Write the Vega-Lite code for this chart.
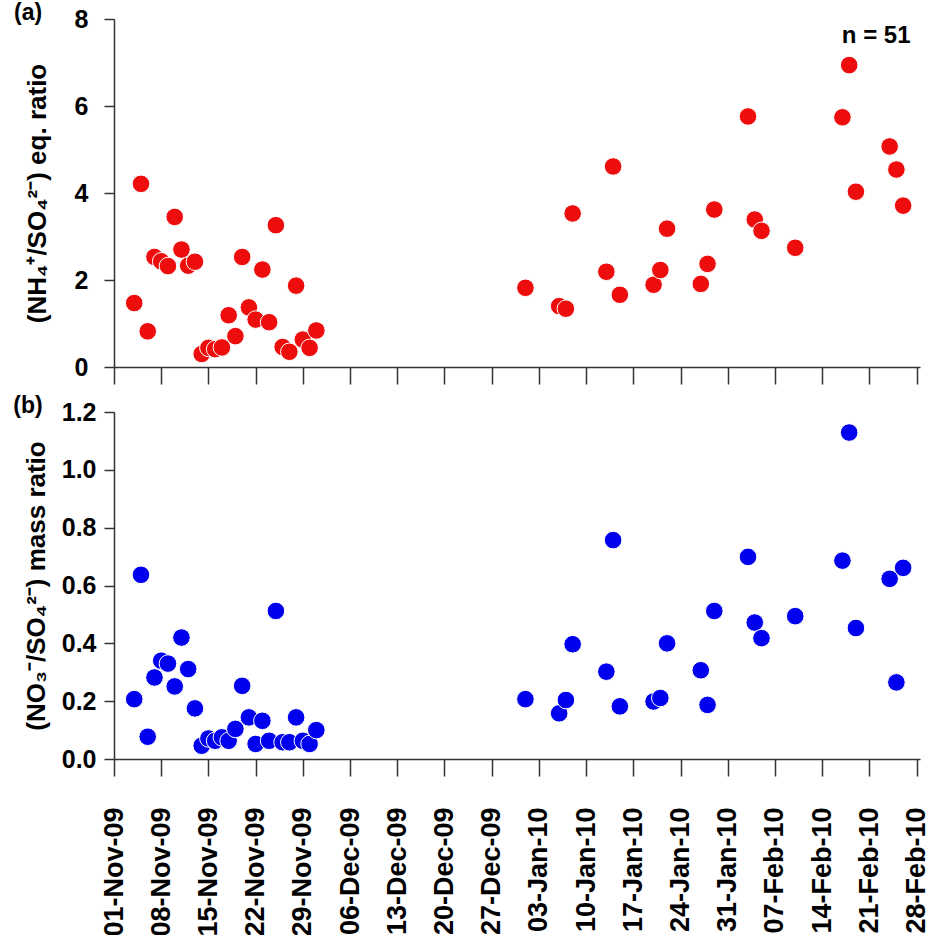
{
  "$schema": "https://vega.github.io/schema/vega-lite/v6.json",
  "background": "white",
  "padding": {"left": 13, "top": 2, "right": 2, "bottom": 5},
  "config": {
    "font": "Liberation Sans",
    "view": {"stroke": null},
    "axis": {"labelFont": "Liberation Sans", "titleFont": "Liberation Sans", "labelFontWeight": "bold", "titleFontWeight": "bold",
      "labelColor": "black", "titleColor": "black", "domainColor": "#333", "tickColor": "#333", "domainWidth": 1.5, "tickWidth": 1.5, "grid": false},
    "title": {"font": "Liberation Sans", "fontWeight": "bold", "fontSize": 23, "anchor": "start", "frame": "bounds", "color": "black"}
  },
  "datasets": {
    "ratios": [
      {"date": "2009-11-04", "nh": 1.47, "no3": 0.207},
      {"date": "2009-11-05", "nh": 4.21, "no3": 0.637},
      {"date": "2009-11-06", "nh": 0.82, "no3": 0.077},
      {"date": "2009-11-07", "nh": 2.53, "no3": 0.282},
      {"date": "2009-11-08", "nh": 2.43, "no3": 0.34},
      {"date": "2009-11-09", "nh": 2.32, "no3": 0.33},
      {"date": "2009-11-10", "nh": 3.45, "no3": 0.251},
      {"date": "2009-11-11", "nh": 2.7, "no3": 0.42},
      {"date": "2009-11-12", "nh": 2.33, "no3": 0.311},
      {"date": "2009-11-13", "nh": 2.42, "no3": 0.175},
      {"date": "2009-11-14", "nh": 0.3, "no3": 0.046},
      {"date": "2009-11-15", "nh": 0.44, "no3": 0.071},
      {"date": "2009-11-16", "nh": 0.41, "no3": 0.063},
      {"date": "2009-11-17", "nh": 0.45, "no3": 0.075},
      {"date": "2009-11-18", "nh": 1.19, "no3": 0.063},
      {"date": "2009-11-19", "nh": 0.71, "no3": 0.104},
      {"date": "2009-11-20", "nh": 2.53, "no3": 0.253},
      {"date": "2009-11-21", "nh": 1.37, "no3": 0.144},
      {"date": "2009-11-22", "nh": 1.09, "no3": 0.052},
      {"date": "2009-11-23", "nh": 2.24, "no3": 0.132},
      {"date": "2009-11-24", "nh": 1.03, "no3": 0.063},
      {"date": "2009-11-25", "nh": 3.26, "no3": 0.512},
      {"date": "2009-11-26", "nh": 0.46, "no3": 0.058},
      {"date": "2009-11-27", "nh": 0.35, "no3": 0.058},
      {"date": "2009-11-28", "nh": 1.87, "no3": 0.144},
      {"date": "2009-11-29", "nh": 0.63, "no3": 0.063},
      {"date": "2009-11-30", "nh": 0.44, "no3": 0.052},
      {"date": "2009-12-01", "nh": 0.84, "no3": 0.1},
      {"date": "2010-01-01", "nh": 1.82, "no3": 0.207},
      {"date": "2010-01-06", "nh": 1.4, "no3": 0.158},
      {"date": "2010-01-07", "nh": 1.34, "no3": 0.204},
      {"date": "2010-01-08", "nh": 3.53, "no3": 0.397},
      {"date": "2010-01-13", "nh": 2.19, "no3": 0.302},
      {"date": "2010-01-14", "nh": 4.61, "no3": 0.757},
      {"date": "2010-01-15", "nh": 1.66, "no3": 0.182},
      {"date": "2010-01-20", "nh": 1.89, "no3": 0.199},
      {"date": "2010-01-21", "nh": 2.23, "no3": 0.211},
      {"date": "2010-01-22", "nh": 3.18, "no3": 0.4},
      {"date": "2010-01-27", "nh": 1.91, "no3": 0.307},
      {"date": "2010-01-28", "nh": 2.37, "no3": 0.187},
      {"date": "2010-01-29", "nh": 3.62, "no3": 0.512},
      {"date": "2010-02-03", "nh": 5.76, "no3": 0.699},
      {"date": "2010-02-04", "nh": 3.39, "no3": 0.472},
      {"date": "2010-02-05", "nh": 3.13, "no3": 0.418},
      {"date": "2010-02-10", "nh": 2.74, "no3": 0.494},
      {"date": "2010-02-17", "nh": 5.74, "no3": 0.686},
      {"date": "2010-02-18", "nh": 6.94, "no3": 1.129},
      {"date": "2010-02-19", "nh": 4.03, "no3": 0.453},
      {"date": "2010-02-24", "nh": 5.07, "no3": 0.623},
      {"date": "2010-02-25", "nh": 4.54, "no3": 0.265},
      {"date": "2010-02-26", "nh": 3.71, "no3": 0.661}
    ],
    "note": [{"date": "2010-02-22", "y": 7.62, "label": "n = 51"}]
  },
  "spacing": 10,
  "vconcat": [
    {
      "width": 806,
      "height": 348,
      "title": {"text": "(a)", "dy": 22, "dx": -10},
      "layer": [
        {
          "data": {"name": "ratios"},
          "mark": {"type": "point", "filled": true, "shape": "circle", "size": 310, "color": "#ee0d0d", "stroke": "white", "strokeWidth": 1, "opacity": 1},
          "encoding": {
            "x": {"field": "date", "type": "temporal",
              "scale": {"type": "utc", "domain": ["2009-11-01T00:00:00Z", "2010-02-28T12:00:00Z"], "nice": false},
              "axis": {"values": ["2009-11-01", "2009-11-08", "2009-11-15", "2009-11-22", "2009-11-29", "2009-12-06", "2009-12-13", "2009-12-20", "2009-12-27", "2010-01-03", "2010-01-10", "2010-01-17", "2010-01-24", "2010-01-31", "2010-02-07", "2010-02-14", "2010-02-21", "2010-02-28"],
                "labels": false, "title": null, "tickSize": 17}},
            "y": {"field": "nh", "type": "quantitative", "scale": {"domain": [0, 8], "nice": false},
              "axis": {"values": [0, 2, 4, 6, 8], "title": "(NH₄⁺/SO₄²⁻) eq. ratio", "titleFontSize": 26, "labelFontSize": 25, "tickSize": 10, "labelPadding": 16, "titlePadding": 24}}
          }
        },
        {
          "data": {"name": "note"},
          "mark": {"type": "text", "font": "Liberation Sans", "fontWeight": "bold", "fontSize": 24, "align": "center", "baseline": "middle"},
          "encoding": {
            "x": {"field": "date", "type": "temporal"},
            "y": {"field": "y", "type": "quantitative"},
            "text": {"field": "label"}
          }
        }
      ]
    },
    {
      "width": 806,
      "height": 347,
      "title": {"text": "(b)", "dy": 22, "dx": -10},
      "data": {"name": "ratios"},
      "mark": {"type": "point", "filled": true, "shape": "circle", "size": 310, "color": "#0000ee", "stroke": "white", "strokeWidth": 1, "opacity": 1},
      "encoding": {
        "x": {"field": "date", "type": "temporal",
          "scale": {"type": "utc", "domain": ["2009-11-01T00:00:00Z", "2010-02-28T12:00:00Z"], "nice": false},
          "axis": {"values": ["2009-11-01", "2009-11-08", "2009-11-15", "2009-11-22", "2009-11-29", "2009-12-06", "2009-12-13", "2009-12-20", "2009-12-27", "2010-01-03", "2010-01-10", "2010-01-17", "2010-01-24", "2010-01-31", "2010-02-07", "2010-02-14", "2010-02-21", "2010-02-28"],
            "labelExpr": "utcFormat(datum.value, '%d-%b-%y')", "labelAngle": -90, "labelAlign": "right", "labelBaseline": "middle",
            "labelFontSize": 27, "labelPadding": 31, "tickSize": 17, "title": null, "labelOverlap": false}},
        "y": {"field": "no3", "type": "quantitative", "scale": {"domain": [0, 1.2], "nice": false},
          "axis": {"values": [0, 0.2, 0.4, 0.6, 0.8, 1.0, 1.2], "format": ".1f", "title": "(NO₃⁻/SO₄²⁻) mass ratio", "titleFontSize": 26, "labelFontSize": 25, "tickSize": 10, "labelPadding": 8, "titlePadding": 12}}
      }
    }
  ]
}
